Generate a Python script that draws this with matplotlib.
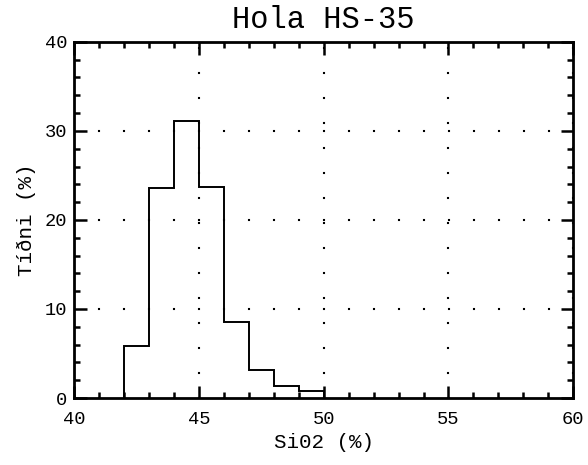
import numpy as np
import matplotlib
matplotlib.use("Agg")
import matplotlib.pyplot as plt
from matplotlib.ticker import MultipleLocator

# Histogram Hola HS-35
bin_edges = [42, 43, 44, 45, 46, 47, 48, 49, 50]
tidni = [5.8, 23.6, 31.1, 23.7, 8.5, 3.2, 1.3, 0.8]

titill = "Hola HS-35"
xlabel = "Si02 (%)"
ylabel = "Tíðni (%)"

font = "Liberation Mono"

fig = plt.figure(figsize=(5.88, 4.65), dpi=100)
ax = fig.add_axes([0.126, 0.144, 0.849, 0.766])

ax.stairs(tidni, bin_edges, color="black", linewidth=1.4)

ax.set_xlim(40, 60)
ax.set_ylim(0, 40)
ax.xaxis.set_major_locator(MultipleLocator(5))
ax.xaxis.set_minor_locator(MultipleLocator(1))
ax.yaxis.set_major_locator(MultipleLocator(10))
ax.yaxis.set_minor_locator(MultipleLocator(2))

ax.tick_params(which="both", direction="in", top=True, right=True,
               width=1.8, labelsize=13.5)
ax.tick_params(axis="x", which="major", pad=9)
ax.tick_params(axis="y", which="major", pad=5)
ax.tick_params(which="major", length=9)
ax.tick_params(which="minor", length=4.5)
for s in ax.spines.values():
    s.set_linewidth(2)

# dottaðar hnitalínur
ax.grid(True, which="major", color="black", linewidth=1.5,
        linestyle=(0.5, (1, 11)))

for lab in ax.get_xticklabels() + ax.get_yticklabels():
    lab.set_family(font)

ax.set_title(titill, fontsize=22, family=font, pad=10)
ax.set_xlabel(xlabel, fontsize=15, family=font, labelpad=4)
ax.set_ylabel(ylabel, fontsize=15, family=font, labelpad=6)

fig.savefig("out.png", dpi=100)
